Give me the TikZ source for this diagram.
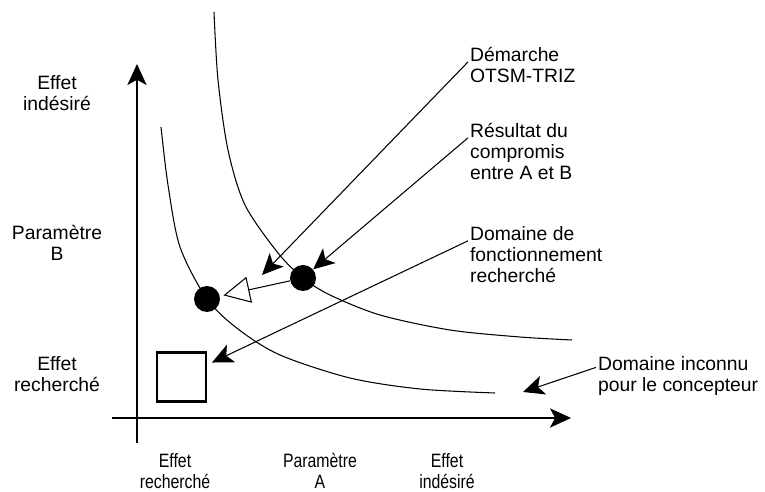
\documentclass[tikz,border=0pt]{standalone}
\usepackage{fontspec}
\setmainfont{Liberation Sans}
\newfontfamily\narrowsans[FakeStretch=0.82]{Liberation Sans}
\usetikzlibrary{positioning, arrows.meta}

\begin{document}
\begin{tikzpicture}[x=0.02cm, y=-0.02cm,
    font=\fontsize{11}{12}\selectfont,
    lbl/.style={align=left, anchor=base west, inner sep=1pt},
    axlbl/.style={align=center, inner sep=0pt},
    narrow/.style={font=\narrowsans\fontsize{11}{12}\selectfont},
    ptr/.style={-{Stealth[length=12pt, width=11pt, inset=3pt]}, line width=0.6pt},
    dot/.style={circle, fill, minimum size=0.52cm, inner sep=0pt}]
    \useasboundingbox (0,0) rectangle (765,492);
    % axes
    \coordinate (ytop) at (137,64);
    \coordinate (xend) at (571,418);
    \draw [ptr] (137,443) -- (ytop);
    \draw [ptr] (112,418) -- (xend);
    % iso-curves
    \draw [line width=0.6pt] plot [smooth] coordinates {(214,12) (218,80) (228,150) (245,205) (278,253) (303,278) (330,295) (380,315) (450,330) (520,337) (572,340)};
    \draw [line width=0.6pt] plot [smooth] coordinates {(161,127) (168,185) (180,247) (207,299) (238,329) (280,355) (350,378) (420,389) (495,393)};
    % points and target zone
    \node (comp) [dot] at (303,278) {};
    \node (sol) [dot] at (207,299) {};
    \node (zone) [draw, line width=1.4pt, minimum size=0.98cm, inner sep=0pt] at (181.5,377) {};
    \draw [-{Triangle[open, length=15pt, width=15pt]}, line width=0.6pt, shorten >=2pt] (comp) -- (sol);
    % axis labels
    \node (effB) [axlbl] at (57,93) {Effet\\indésiré};
    \node (parB) [axlbl] at (57,243) {Paramètre\\B};
    \node (recB) [axlbl] at (57,374) {Effet\\recherché};
    \node (recA) [axlbl, narrow] at (175,471) {Effet\\recherché};
    \node (parA) [axlbl, narrow] at (320,471) {Paramètre\\A};
    \node (effA) [axlbl, narrow] at (447,471) {Effet\\indésiré};
    % explanations (anchored on the baseline of the last line)
    \node (otsm) [lbl] at (468,83) {Démarche\\OTSM-TRIZ};
    \node (res) [lbl] at (468,180) {Résultat du\\compromis\\entre A et B};
    \node (dom) [lbl] at (468,283) {Domaine de\\fonctionnement\\recherché};
    \node (inc) [lbl] at (596,392) {Domaine inconnu\\pour le concepteur};
    \coordinate (otsmtip) at (262,275);
    \coordinate (inctip) at (523,392);
    \draw [ptr] ([yshift=12pt]otsm.base west) -- (otsmtip);
    \draw [ptr] ([yshift=24pt]res.base west) -- (comp);
    \draw [ptr, shorten >=3pt] ([yshift=24pt]dom.base west) -- (zone);
    \draw [ptr] ([yshift=14pt]inc.base west) -- (inctip);
\end{tikzpicture}
\end{document}
